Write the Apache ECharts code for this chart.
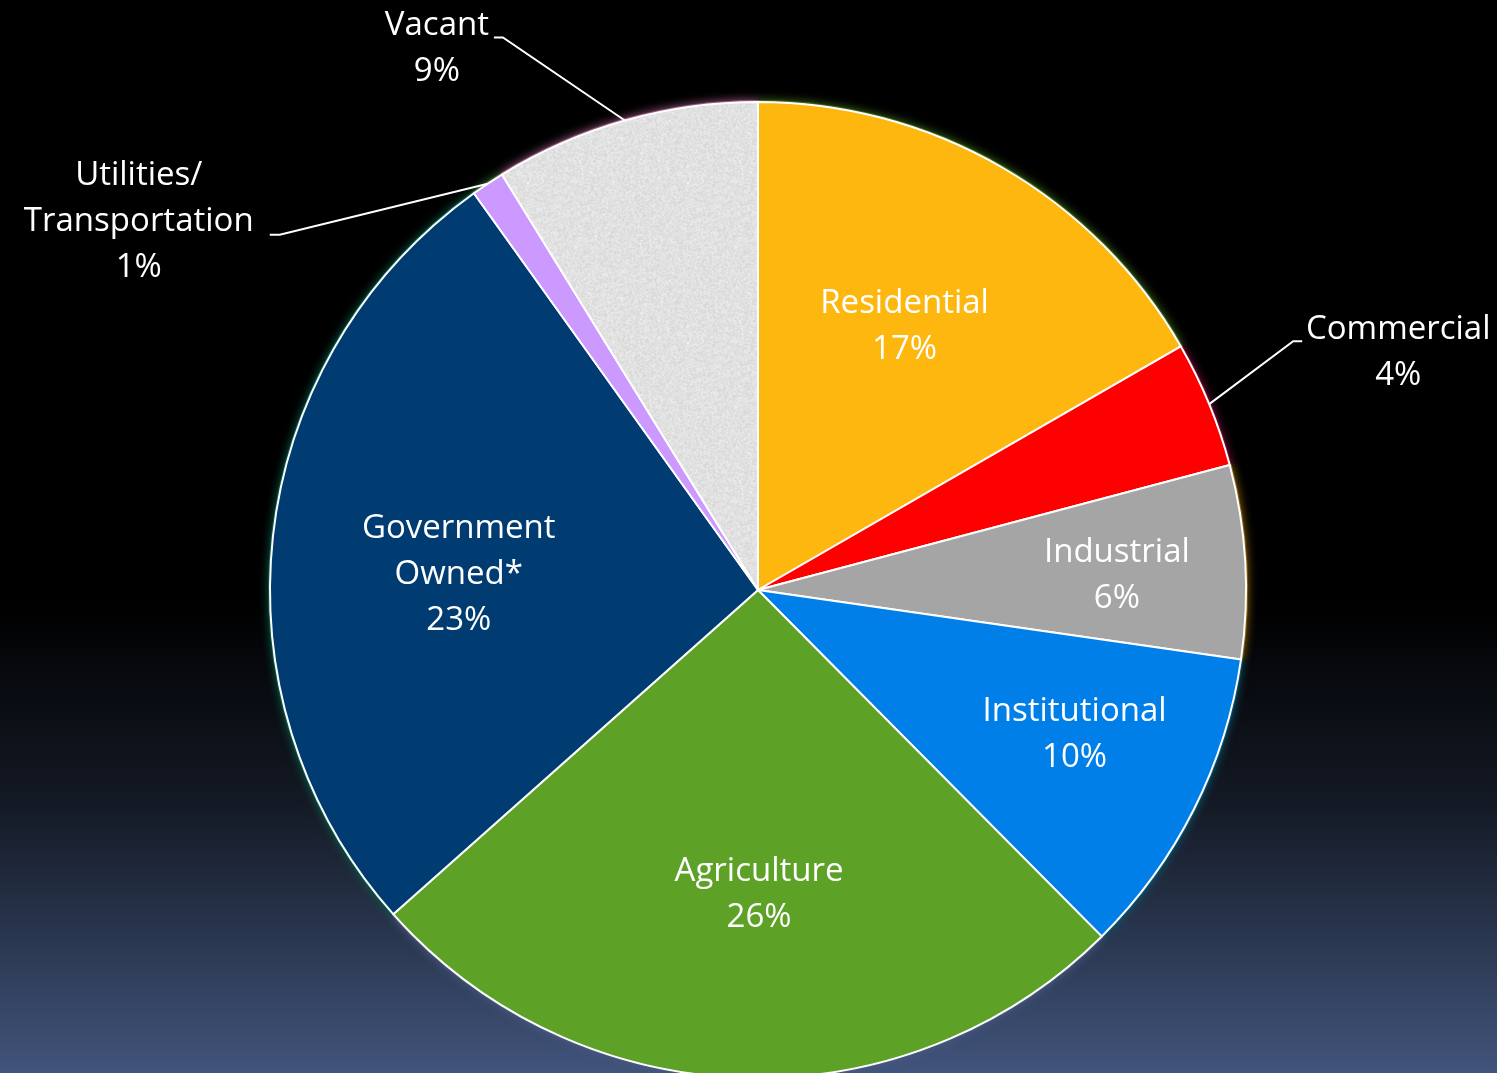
<!DOCTYPE html>
<html>
<head>
<meta charset="utf-8">
<style>
html,body{margin:0;padding:0;background:#000;}
#chart{width:1497px;height:1073px;}
</style>
<script src="https://cdn.jsdelivr.net/npm/echarts@6/dist/echarts.min.js"></script>
</head>
<body>
<div id="chart"></div>
<script>
// ---- data ----
const categories = ['Residential', 'Commercial', 'Industrial', 'Institutional', 'Agriculture', 'Government\nOwned*', 'Utilities/\nTransportation', 'Vacant'];
const shareValues = [16.7, 4.2, 6.4, 10.3, 25.9, 26.7, 1.1, 8.8];
const pctLabels = ['17%', '4%', '6%', '10%', '26%', '23%', '1%', '9%'];

// ---- style ----
const CX = 758, CY = 590, R = 488;
const sliceColors = ['#FDB70F', '#FF0000', '#A5A5A5', '#007FE9', '#5DA126', '#003C71', '#CC99FF', 'texture'];
const glowColors = ['#3f6a1c', '#70103a', '#8a6410', '#0a5670', '#4a5a80', '#0b5a48', '#3a6a30', '#9a5a80'];
const labelInside = [true, false, true, true, true, true, false, false];
const insideRadius = [0.617, 0, 0.736, 0.713, 0.625, 0.614, 0, 0];
const insideAngleShift = [-0.9, 0, 1.0, -2.2, -2.0, -3.4, 0, 0]; // degrees
// outside labels: offsets relative to slice edge midpoint
const outsideLayout = {
  1: { label: [189, -52], elbow: [84, -63], end: [93, -63] },
  6: { label: [-349, 38], elbow: [-208, 51], end: [-218, 51] },
  7: { label: [-188, -72], elbow: [-122, -83], end: [-131, -83] }
};

// vacant texture (deterministic noise)
function makeTexture() {
  const c = document.createElement('canvas');
  c.width = 160; c.height = 160;
  const ctx = c.getContext('2d');
  const img = ctx.createImageData(160, 160);
  let seed = 12345;
  function rnd() { seed = (seed * 1103515245 + 12345) & 0x7fffffff; return seed / 0x7fffffff; }
  for (let p = 0; p < 160 * 160; p++) {
    const g = Math.round(226 + (rnd() - 0.5) * 30);
    img.data[p * 4] = g; img.data[p * 4 + 1] = g; img.data[p * 4 + 2] = g; img.data[p * 4 + 3] = 255;
  }
  ctx.putImageData(img, 0, 0);
  ctx.globalAlpha = 0.35;
  ctx.drawImage(c, 1, 0); ctx.drawImage(c, 0, 1);
  return c;
}
const texture = makeTexture();

const total = shareValues.reduce((a, b) => a + b, 0);
function midAngle(i) {
  let cum = 0;
  for (let j = 0; j < i; j++) cum += shareValues[j];
  return (cum + shareValues[i] / 2) / total * Math.PI * 2;
}

const mainData = categories.map((name, i) => ({
  name: name,
  value: shareValues[i],
  itemStyle: {
    color: sliceColors[i] === 'texture' ? { image: texture, repeat: 'repeat' } : sliceColors[i]
  },
  label: { position: labelInside[i] ? 'inside' : 'outside' },
  labelLine: { show: !labelInside[i] }
}));

const glowData = categories.map((name, i) => ({
  name: name,
  value: shareValues[i],
  itemStyle: { color: glowColors[i], shadowBlur: 10, shadowColor: glowColors[i] }
}));

const chart = echarts.init(document.getElementById('chart'), null, { renderer: 'canvas' });
chart.setOption({
  backgroundColor: {
    type: 'linear', x: 0, y: 0, x2: 0, y2: 1,
    colorStops: [
      { offset: 0, color: '#000000' },
      { offset: 0.56, color: '#000000' },
      { offset: 0.75, color: '#141a25' },
      { offset: 1, color: '#41547b' }
    ]
  },
  animation: false,
  series: [
    {
      type: 'pie',
      silent: true,
      center: [CX, CY],
      radius: R + 2,
      startAngle: 90,
      clockwise: true,
      label: { show: false },
      labelLine: { show: false },
      data: glowData,
      z: 1
    },
    {
      type: 'pie',
      center: [CX, CY],
      radius: R,
      startAngle: 90,
      clockwise: true,
      avoidLabelOverlap: false,
      z: 2,
      itemStyle: { borderColor: '#ffffff', borderWidth: 2 },
      label: {
        show: true,
        color: '#ffffff',
        fontFamily: '"Open Sans", sans-serif',
        fontSize: 33,
        lineHeight: 46,
        align: 'center',
        formatter: p => p.name + '\n' + pctLabels[p.dataIndex]
      },
      labelLine: { lineStyle: { color: '#ffffff', width: 2 }, length: 20, length2: 10 },
      labelLayout: function (params) {
        const i = params.dataIndex;
        if (labelInside[i]) {
          const a = midAngle(i) + insideAngleShift[i] * Math.PI / 180;
          const r = R * insideRadius[i];
          return { x: CX + r * Math.sin(a), y: CY - r * Math.cos(a), align: 'center', verticalAlign: 'middle' };
        }
        const a = midAngle(i);
        const ex = CX + R * Math.sin(a), ey = CY - R * Math.cos(a);
        const o = outsideLayout[i];
        return {
          x: ex + o.label[0], y: ey + o.label[1],
          align: 'center', verticalAlign: 'middle',
          labelLinePoints: [[ex, ey], [ex + o.elbow[0], ey + o.elbow[1]], [ex + o.end[0], ey + o.end[1]]]
        };
      },
      data: mainData
    }
  ]
});
</script>
</body>
</html>
